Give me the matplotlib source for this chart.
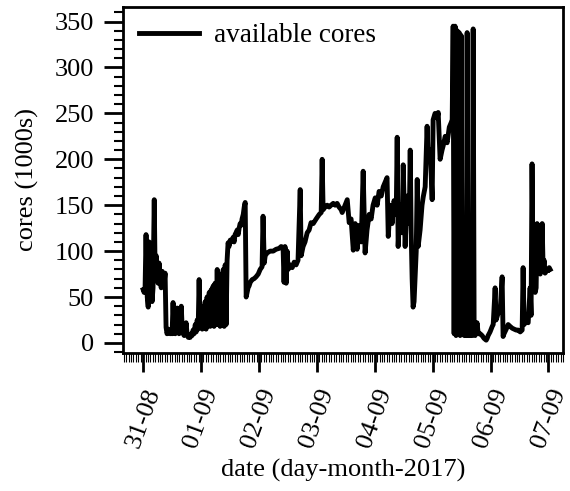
import numpy as np
import pandas as pd
import matplotlib
matplotlib.use("Agg")
import matplotlib.pyplot as plt
import matplotlib.dates as mdates
from matplotlib.ticker import MultipleLocator

plt.rcParams['font.family'] = ['Liberation Serif', 'DejaVu Serif']

# hours since 31-08-2017 00:00
hours = [
    0, 0.4, 0.8, 1.2, 1.7, 2.1, 2.5, 2.9, 3.3, 3.7, 4.1, 4.6, 5.0, 5.4, 5.8, 6.2,
    6.6, 7.0, 7.5, 7.9, 8.3, 8.7, 9.1, 9.5, 9.9, 10.4, 10.8, 11.2, 11.6, 12.0,
    12.4, 12.8, 13.3, 13.7, 14.1, 14.5, 14.9, 15.3, 15.8, 16.2, 16.6, 17.0, 17.4,
    17.8, 18.2, 18.7, 19.1, 19.5, 19.9, 20.3, 20.7, 21.1, 21.6, 22.0, 22.4, 22.8,
    23.2, 23.6, 24.0, 24.5, 24.9, 25.3, 25.7, 26.1, 26.5, 26.9, 27.4, 27.8, 28.2,
    28.6, 29.0, 29.4, 29.8, 30.3, 30.7, 31.1, 31.5, 31.9, 32.3, 32.7, 33.2, 33.6,
    34.0, 34.4, 34.8, 35.2, 35.6, 36.1, 36.5, 36.9, 37.3, 37.7, 38.1, 38.5, 39.0,
    39.4, 39.8, 40.2, 40.6, 41.0, 41.5, 41.9, 42.3, 42.7, 43.1, 43.5, 43.9, 44.4,
    45.2, 46.0, 46.8, 47.7, 48.5, 49.3, 49.7, 50.2, 50.6, 51.4, 52.6, 53.9, 55.1,
    56.4, 57.2, 58.0, 58.4, 58.8, 59.3, 59.7, 60.1, 60.9, 61.8, 62.6, 63.4, 64.2,
    65.1, 65.5, 66.3, 67.1, 68.0, 68.8, 69.6, 70.5, 71.7, 73.0, 73.8, 74.2, 74.6,
    75.4, 76.3, 77.1, 77.9, 78.8, 79.6, 80.4, 81.2, 82.1, 82.5, 83.7, 84.6, 85.4,
    86.2, 87.1, 87.9, 88.7, 89.5, 90.4, 91.2, 92.0, 92.8, 93.7, 94.5, 95.3, 96.2,
    97.0, 97.8, 98.7, 99.5, 100.3, 101.1, 101.6, 102.4, 103.2, 104.0, 104.9,
    105.3, 105.7, 106.5, 107.4, 107.8, 108.6, 109.4, 110.3, 110.7, 111.1, 111.5,
    111.9, 112.3, 112.7, 113.2, 113.6, 114.0, 114.8, 115.6, 116.1, 116.9, 117.7,
    118.1, 119.0, 119.8, 120.2, 121.0, 121.9, 122.3, 123.1, 123.9, 124.4, 125.2,
    126.0, 126.9, 127.7, 128.1,
    128.5, 128.9, 129.3, 129.7, 130.2, 130.6, 131.0, 131.4, 131.8, 132.2,
    132.6, 133.1, 133.5, 133.9, 134.3, 134.7, 135.1, 135.5, 136.4, 136.8, 137.2,
    137.6, 138.0, 138.4, 138.9, 139.7, 140.5, 141.3, 142.2, 142.6, 143.0, 143.8,
    144.7, 145.1, 145.9, 146.3, 147.1, 148.0, 148.8, 149.2, 149.6, 150.5, 151.3,
    152.1, 153.0, 153.8, 154.6, 155.4, 156.3, 157.1, 157.5, 157.9, 158.7, 159.6,
    160.4, 160.8, 161.2, 161.7, 162.1, 162.5, 162.9, 163.3, 163.7, 164.2, 164.6,
    165.0, 165.4, 165.8, 166.2, 166.6, 167.1, 167.5, 167.9, 168.3, 168.7,
]

# available cores in thousands
cores = [
    58, 55, 60, 118, 50, 39, 110, 60, 70, 45, 60, 156, 70, 95, 80, 65,
    87, 70, 60, 78, 70, 65, 76, 17, 10, 15, 12, 10, 12, 10,
    44, 12, 10, 12, 38, 15, 10, 12, 40, 15, 10, 8, 12,
    22, 10, 6, 8, 6, 10, 8, 14, 10, 20, 12, 25, 15,
    69, 18, 30, 15, 40, 18, 45, 15, 50, 20, 55, 18, 58,
    20, 62, 18, 65, 20, 80, 20, 70, 18, 75, 20, 80, 18,
    85, 20, 90, 109, 105, 112, 110, 112, 115, 110, 118, 120, 123,
    118, 125, 130, 128, 135, 140, 148, 153, 50, 55, 60, 62, 66,
    69, 70, 72, 75, 80, 83, 138, 87, 95, 98, 100, 100, 102,
    103, 105, 104, 66, 105, 65, 100, 80, 85, 82, 88, 85, 90,
    167, 95, 105, 110, 120, 123, 131, 130, 135, 140, 142, 200, 145,
    148, 150, 148, 150, 152, 150, 152, 148, 145, 142, 150, 156, 131,
    135, 101, 130, 102, 128, 110, 187, 98, 123, 140, 135, 150, 158,
    150, 165, 160, 170, 175, 180, 116, 150, 130, 155, 140,
    224, 105, 150, 120, 194, 105, 160, 130, 210, 120, 70,
    39, 45, 70, 100, 178, 105, 123, 150, 159, 170, 236,
    203, 210, 156, 243, 250, 245, 251, 200, 210, 215, 225,
    218, 235, 240, 243,
    345, 10, 345, 8, 340, 10, 338, 8, 335, 10,
    12, 8, 10, 8, 338, 8, 10, 8, 8, 342, 10,
    8, 12, 22, 10, 10, 8, 5, 3, 5, 8, 12,
    18, 20, 60, 25, 32, 35, 72, 7, 10, 15, 20,
    18, 16, 15, 14, 14, 12, 14, 82, 20, 23, 22,
    60, 30, 195, 60, 70, 55, 60, 130, 80, 90, 75,
    85, 130, 80, 90, 76, 78, 80, 79, 82, 80,
]

start = pd.Timestamp('2017-08-31 00:00')
times = start + pd.to_timedelta(hours, unit='h')

fig = plt.figure(figsize=(5.7, 4.91), dpi=100)
ax = fig.add_axes([0.216, 0.281, 0.772, 0.705])

ax.plot(times, cores, color='black', lw=3.5, label='available cores')

ax.set_xlim(start - pd.Timedelta(hours=8.3), start + pd.Timedelta(hours=174.1))
ax.set_ylim(-11, 366)

ax.xaxis.set_major_locator(mdates.DayLocator())
ax.xaxis.set_minor_locator(mdates.HourLocator())
ax.xaxis.set_major_formatter(mdates.DateFormatter('%d-%m'))
ax.yaxis.set_major_locator(MultipleLocator(50))
ax.yaxis.set_minor_locator(MultipleLocator(10))

ax.tick_params(which='both', direction='out', top=False, right=False, labelsize=19)
ax.tick_params(which='major', length=14, width=2, pad=7)
ax.tick_params(axis='x', which='major', pad=9)
ax.tick_params(axis='y', which='minor', length=6.5, width=1.5)
ax.tick_params(axis='x', which='minor', length=6.5, width=0.8)
for lab in ax.get_xticklabels():
    lab.set_rotation(70)
for s in ax.spines.values():
    s.set_linewidth(2)

ax.set_xlabel('date (day-month-2017)', fontsize=19, labelpad=6)
ax.set_ylabel('cores (1000s)', fontsize=19, labelpad=11)
ax.legend(loc='upper left', frameon=False, fontsize=19.5, handlelength=2.2,
          handletextpad=0.55, borderaxespad=0.2)

fig.savefig('out.png', dpi=100)
